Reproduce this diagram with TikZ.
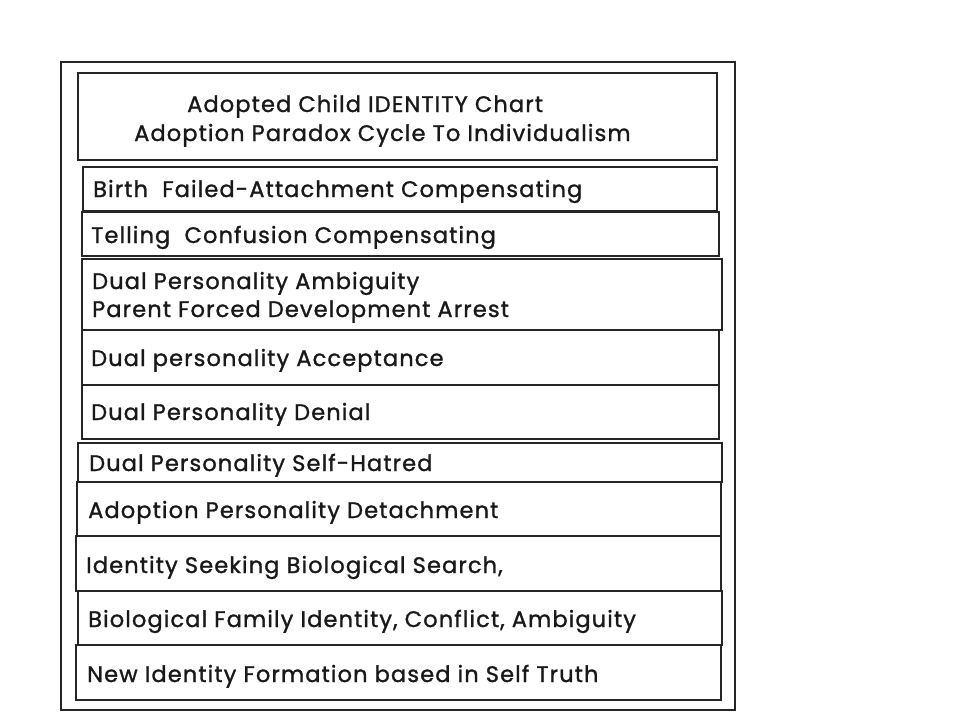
\documentclass[tikz,border=0pt]{standalone}
\usepackage{fontspec}
\setmainfont{Poppins}[LetterSpace=5,FakeBold=1.2]
\begin{document}
\begin{tikzpicture}[x=1pt,y=-1pt,
  frame/.style={draw=black!85,line width=1.6pt},
  lbl/.style={anchor=base west,inner sep=0pt,font=\fontsize{22.5}{26}\selectfont,text=black!90}]
\useasboundingbox (0,0) rectangle (960,720);
\fill[white] (0,0) rectangle (960,720);
\draw[frame] (61,62) rectangle (735,710);
% boxes
\draw[frame] (78,73) rectangle (717,160);
\draw[frame] (83,167) rectangle (717,211);
\draw[frame] (82,212) rectangle (719,256);
\draw[frame] (82,259) rectangle (722,330);
\draw[frame] (82,330) rectangle (719,385);
\draw[frame] (82,385) rectangle (719,439);
\draw[frame] (78,443) rectangle (722,482);
\draw[frame] (77,482) rectangle (721,536);
\draw[frame] (76,536) rectangle (721,591);
\draw[frame] (78,591) rectangle (722,645);
\draw[frame] (76,645) rectangle (721,700);
% texts
\node[lbl] (t1) at (187,112) {Adopted Child IDENTITY Chart};
\node[lbl] (t2) at (134,141) {Adoption Paradox Cycle To Individualism};
\node[lbl] (b1) at (93,197) {Birth\ \ Failed-Attachment Compensating};
\node[lbl] (b2) at (91,243) {Telling\ \ Confusion Compensating};
\node[lbl] (b3a) at (92,289) {Dual Personality Ambiguity};
\node[lbl] (b3b) at (92,317) {Parent Forced Development Arrest};
\node[lbl] (b4) at (91,366) {Dual personality Acceptance};
\node[lbl] (b5) at (91,420) {Dual Personality Denial};
\node[lbl] (b6) at (89,471) {Dual Personality Self-Hatred};
\node[lbl] (b7) at (88,518) {Adoption Personality Detachment};
\node[lbl] (b8) at (86,573) {Identity Seeking Biological Search,};
\node[lbl] (b9) at (88,627) {Biological Family Identity, Conflict, Ambiguity};
\node[lbl] (b10) at (87,682) {New Identity Formation based in Self Truth};
\end{tikzpicture}
\end{document}
